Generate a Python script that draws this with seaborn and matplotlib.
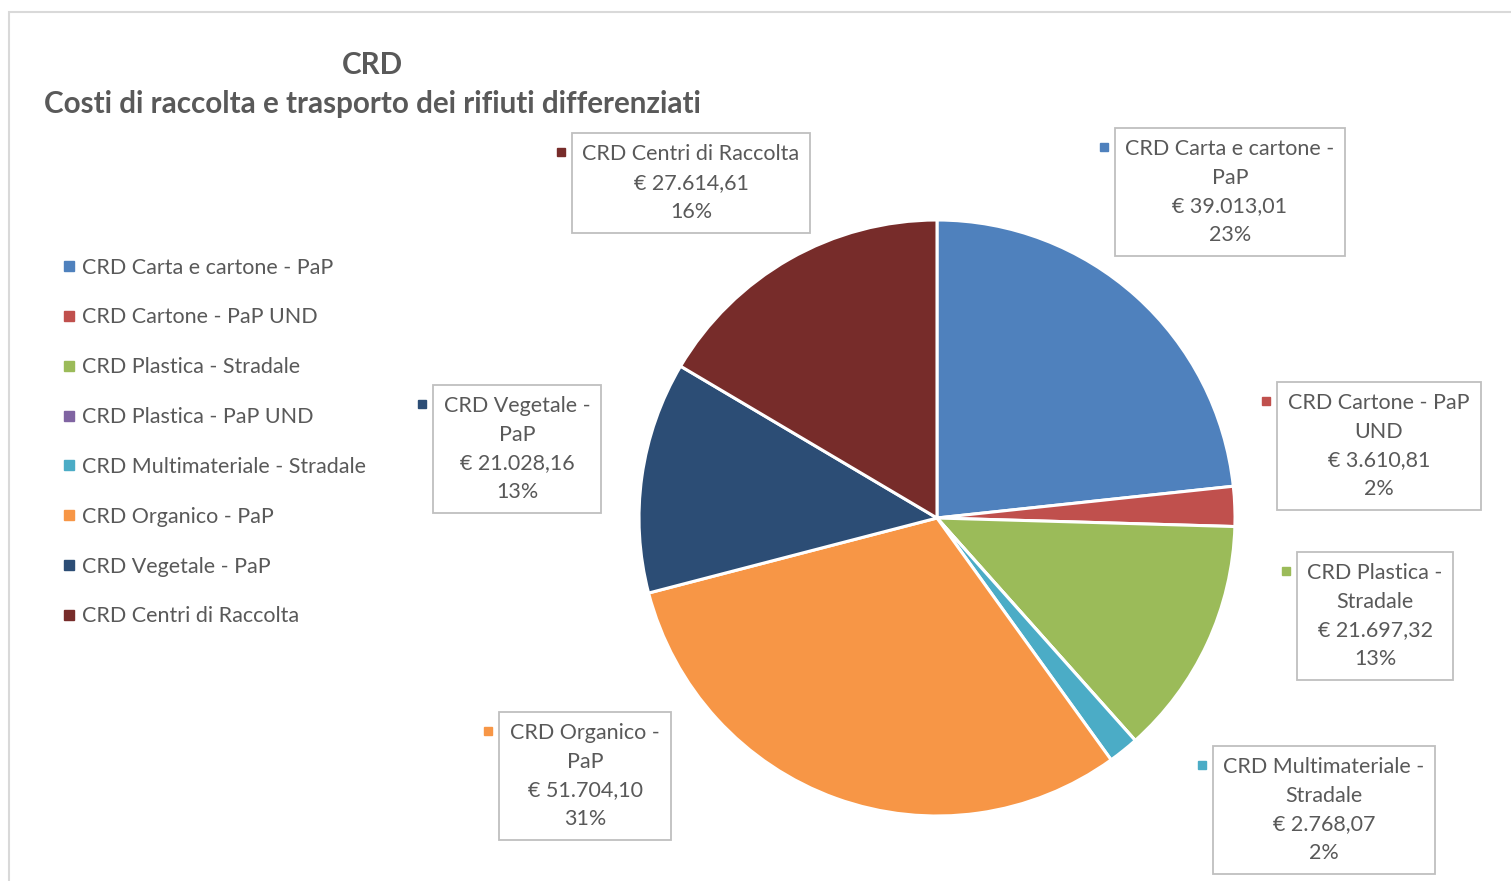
import matplotlib
matplotlib.use("Agg")
import matplotlib.pyplot as plt
from matplotlib.lines import Line2D
from matplotlib.patches import Rectangle
import seaborn as sns

# dati
categorie = ["CRD Carta e cartone - PaP", "CRD Cartone - PaP UND", "CRD Plastica - Stradale",
             "CRD Plastica - PaP UND", "CRD Multimateriale - Stradale", "CRD Organico - PaP",
             "CRD Vegetale - PaP", "CRD Centri di Raccolta"]
costi = [39013.01, 3610.81, 21697.32, 0.0, 2768.07, 51704.10, 21028.16, 27614.61]
colori = ["#4F81BD", "#C0504D", "#9BBB59", "#8064A2", "#4BACC6", "#F79646", "#2C4D75", "#772C2A"]

# nomi a capo nelle etichette
nomi_etichetta = ["CRD Carta e cartone -\nPaP", "CRD Cartone - PaP\nUND", "CRD Plastica -\nStradale",
                  None, "CRD Multimateriale -\nStradale", "CRD Organico -\nPaP",
                  "CRD Vegetale -\nPaP", "CRD Centri di Raccolta"]
# posizione (pixel) del centro dei riquadri
pos_etichette = [(1230, 192), (1379, 446), (1375, 616), None, (1324, 810),
                 (585, 776), (517, 449), (691, 183)]

W, H = 1511, 881
GRIGIO = "#595959"

sns.set_style("white")
plt.rcParams['font.family'] = ['Lato', 'DejaVu Sans']


def px(x, y):
    return x / W, 1 - y / H


def euro(v):
    s = f"{v:,.2f}"
    return "€ " + s.replace(",", "X").replace(".", ",").replace("X", ".")


fig = plt.figure(figsize=(W / 100, H / 100), dpi=100)

# cornice dell'area grafico
x0, y0 = px(9, 900)
fig.patches.append(Rectangle((x0, y0), 1.1, (1 - 12 / H) - y0, transform=fig.transFigure,
                             fill=False, edgecolor="#D9D9D9", linewidth=1.5))

r = 298
cx, cy = 937, 518
ax = fig.add_axes([(cx - r) / W, (H - cy - r) / H, 2 * r / W, 2 * r / H])
ax.pie(costi, colors=colori, startangle=90, counterclock=False, radius=1,
       wedgeprops=dict(edgecolor="white", linewidth=2.2))
ax.set_xlim(-1.0, 1.0)
ax.set_ylim(-1.0, 1.0)
ax.set_aspect("equal")
ax.axis("off")

# titolo
fig.text(*px(372, 65), "CRD", ha="center", va="center", fontsize=21.3, fontweight="bold", color=GRIGIO)
fig.text(*px(372, 104), "Costi di raccolta e trasporto dei rifiuti differenziati", ha="center",
         va="center", fontsize=21.3, fontweight="bold", color=GRIGIO)

# etichette dati
totale = sum(costi)
for nome, v, col, pos in zip(nomi_etichetta, costi, colori, pos_etichette):
    if pos is None or v == 0:
        continue
    testo = f"{nome}\n{euro(v)}\n{round(v / totale * 100):.0f}%"
    t = fig.text(*px(*pos), testo, ha="center", va="center", fontsize=15.5, color=GRIGIO,
                 linespacing=1.55, multialignment="center",
                 bbox=dict(boxstyle="square,pad=0.5", facecolor="white", edgecolor="#BFBFBF",
                           linewidth=1.3))
    fig.canvas.draw()
    bb = t.get_bbox_patch().get_window_extent()
    fig.lines.append(Line2D([(bb.x0 - 11) / W], [(bb.y1 - 19) / H], marker="s", markersize=6,
                            color=col, linestyle="none", transform=fig.transFigure))

# legenda
maniglie = [Line2D([0], [0], marker="s", color=c, markersize=7, linestyle="none") for c in colori]
leg = fig.legend(maniglie, categorie, loc="upper left", bbox_to_anchor=px(50, 249),
                 frameon=False, fontsize=15.5, labelspacing=1.385, handletextpad=0.1,
                 handlelength=1.0, borderaxespad=0)
for txt in leg.get_texts():
    txt.set_color(GRIGIO)

fig.savefig("out.png", dpi=100, facecolor="white")
